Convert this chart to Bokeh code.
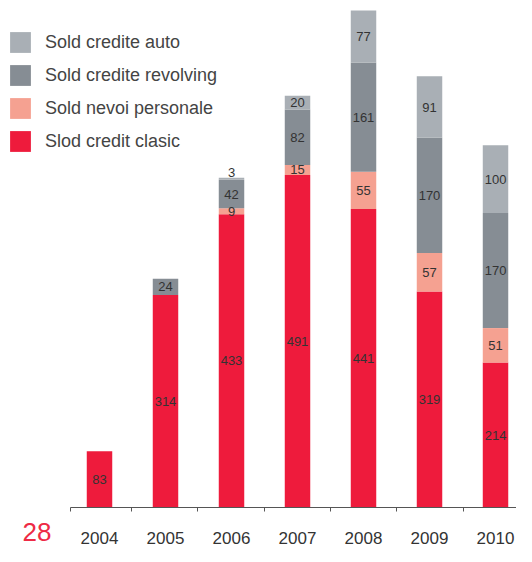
import numpy as np
from bokeh.plotting import figure
from bokeh.models import ColumnDataSource, FixedTicker, Legend, LegendItem, Range1d
from bokeh.core.properties import value
from bokeh.embed import file_html
from bokeh.resources import INLINE

# ---- data ----
years = ["2004", "2005", "2006", "2007", "2008", "2009", "2010"]
clasic = [83, 314, 433, 491, 441, 319, 214]      # Slod credit clasic
nevoi = [0, 0, 9, 15, 55, 57, 51]               # Sold nevoi personale
revolving = [0, 24, 42, 82, 161, 170, 170]      # Sold credite revolving
auto = [0, 0, 3, 20, 77, 91, 100]               # Sold credite auto
page_number = "28"

series_keys = ["clasic", "nevoi", "revolving", "auto"]
series_labels = ["Slod credit clasic", "Sold nevoi personale",
                 "Sold credite revolving", "Sold credite auto"]
colors = ["#ee1b3c", "#f5a191", "#868d94", "#a9afb5"]

xs = list(range(len(years)))
src = ColumnDataSource(dict(x=xs, clasic=clasic, nevoi=nevoi,
                            revolving=revolving, auto=auto))

p = figure(width=516, height=546, output_backend="svg", toolbar_location=None,
           x_range=Range1d(-1.5, 6.318), y_range=Range1d(-57.6, 748.8),
           min_border=0)
p.yaxis.visible = False
p.grid.visible = False
p.outline_line_color = None
p.background_fill_color = None
p.border_fill_color = "white"

rs = p.vbar_stack(series_keys, x="x", width=0.386, color=colors,
                  line_color=None, source=src)

# value labels centred in each segment
data = np.array([clasic, nevoi, revolving, auto], dtype=float)
tops = np.cumsum(data, axis=0)
bottoms = tops - data
lx, ly, lt, ax_, ay_, at_ = [], [], [], [], [], []
for s in range(data.shape[0]):
    for i in xs:
        v = data[s, i]
        if v <= 0:
            continue
        if v < 5:
            ax_.append(i); ay_.append(tops[s, i]); at_.append(str(int(v)))
        else:
            lx.append(i); ly.append((bottoms[s, i] + tops[s, i]) / 2); lt.append(str(int(v)))

p.text(x=lx, y=ly, text=lt, text_align="center", text_baseline="middle",
       text_font_size="13px", text_color="#333333", text_font=value("Liberation Sans"))
p.text(x=ax_, y=ay_, text=at_, text_align="center", text_baseline="bottom",
       text_font_size="13px", text_color="#333333", text_font=value("Liberation Sans"),
       y_offset=-1)

# x axis at value 0: boundary ticks (minor), year labels at bar centres
boundaries = [-0.44, 0.485, 1.485, 2.5, 3.5, 4.5, 5.515]
ax = p.xaxis[0]
ax.fixed_location = 0
ax.ticker = FixedTicker(ticks=xs, minor_ticks=boundaries)
ax.major_label_overrides = {i: y for i, y in zip(xs, years)}
ax.major_tick_out = 0
ax.major_tick_in = 0
ax.minor_tick_out = 4
ax.minor_tick_in = 0
ax.minor_tick_line_color = "#555555"
ax.axis_line_color = "#555555"
ax.bounds = (-0.44, 6.318)
ax.major_label_standoff = 20
ax.major_label_text_font_size = "17px"
ax.major_label_text_color = "#333333"
ax.major_label_text_font = "Liberation Sans"

# legend (bar legend glyphs are inset 10% on each side)
items = [LegendItem(label=series_labels[k], renderers=[rs[k]]) for k in [3, 2, 1, 0]]
legend = Legend(items=items, location=(7, 392), glyph_width=26, glyph_height=26,
                label_height=26, spacing=7, padding=0, margin=0,
                border_line_color=None, background_fill_alpha=0,
                label_standoff=12, label_text_font_size="18px",
                label_text_color="#444444", label_text_font="Liberation Sans")
p.add_layout(legend)

# page number in the lower-left corner
p.text(x=[-1.5], y=[-57.6], text=[page_number], x_offset=22, y_offset=-6,
       text_align="left", text_baseline="bottom", text_font_size="26px",
       text_color="#ee2a45", text_font=value("Liberation Sans"))

open("out.html", "w").write(file_html(p, INLINE))
